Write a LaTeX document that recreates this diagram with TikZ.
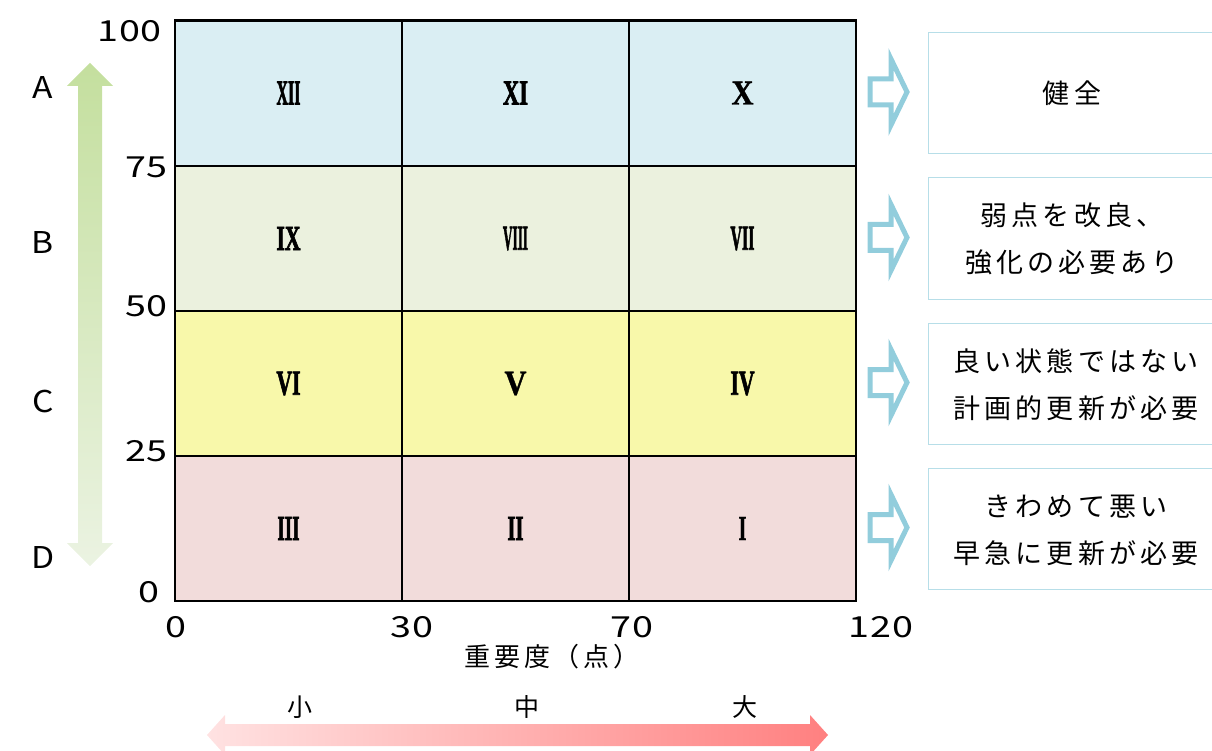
\documentclass[tikz,border=0pt]{standalone}
\usepackage{fontspec}
\usepackage{graphicx}
\setmainfont{Noto Sans CJK JP}
\newfontfamily\jpsp[LetterSpace=15]{Noto Sans CJK JP}
\newfontfamily\numfont[FakeStretch=1.3,LetterSpace=3]{Noto Sans CJK JP}
\newfontfamily\latfont[FakeStretch=1.12]{Noto Sans CJK JP}
\newfontfamily\cjkfont{Noto Sans CJK JP}
\newfontfamily\rmnfont[FakeBold=2.5]{Liberation Serif}
\newfontfamily\rmnfontb[FakeBold=1.2]{Liberation Serif}
\newcommand\rnum[2]{\resizebox{#2pt}{23pt}{\rmnfont\bfseries #1}}
\newcommand\rnumb[2]{\resizebox{#2pt}{23pt}{\rmnfontb\bfseries #1}}
\definecolor{rowA}{HTML}{DAEEF3}
\definecolor{rowB}{HTML}{EBF1DE}
\definecolor{rowC}{HTML}{F8F8AA}
\definecolor{rowD}{HTML}{F2DCDB}
\definecolor{arrblue}{HTML}{92CDDC}
\definecolor{boxblue}{HTML}{B7DEE8}
\definecolor{gtop}{HTML}{C4DF9E}
\definecolor{gbot}{HTML}{EBF3E2}
\definecolor{pleft}{HTML}{FFE2E2}
\definecolor{pright}{HTML}{FF8080}
\begin{document}
\begin{tikzpicture}[x=1pt,y=-1pt,
  cell/.style={draw=black,line width=1.8pt,minimum width=227pt,minimum height=145pt,inner sep=0pt,outer sep=0pt},
  ytick/.style={anchor=east,font=\numfont\fontsize{29}{29}\selectfont,inner sep=0pt},
  xtick/.style={anchor=center,font=\numfont\fontsize{29}{29}\selectfont,inner sep=0pt},
  grade/.style={anchor=center,font=\latfont\fontsize{30}{30}\selectfont,inner sep=0pt},
  infobox/.style={draw=boxblue,line width=1pt,fill=white,minimum width=290pt,minimum height=121pt,anchor=west,inner sep=0pt},
  infotext/.style={align=center,font=\jpsp\fontsize{27}{47}\selectfont,inner sep=0pt},
  hollow/.style={draw=arrblue,line width=5pt,fill=white,line join=miter,miter limit=10},
  sizelabel/.style={font=\cjkfont\fontsize{25}{25}\selectfont,inner sep=0pt}
]
\useasboundingbox (0,0) rectangle (1212,751);
% grid cells
\node[cell,fill=rowA] (c12) at (288.5,93) {\rnum{XII}{24}};
\node[cell,fill=rowA] (c11) at (515.5,93) {\rnum{XI}{25}};
\node[cell,fill=rowA] (c10) at (742.5,93) {\rnumb{X}{22}};
\node[cell,fill=rowB] (c9) at (288.5,238.5) {\rnum{IX}{24}};
\node[cell,fill=rowB] (c8) at (515.5,238.5) {\rnum{VIII}{25}};
\node[cell,fill=rowB] (c7) at (742.5,238.5) {\rnum{VII}{24}};
\node[cell,fill=rowC] (c6) at (288.5,383.5) {\rnum{VI}{24}};
\node[cell,fill=rowC] (c5) at (515.5,383.5) {\rnumb{V}{22}};
\node[cell,fill=rowC] (c4) at (742.5,383.5) {\rnum{IV}{24}};
\node[cell,fill=rowD] (c3) at (288.5,528.5) {\rnum{III}{22}};
\node[cell,fill=rowD] (c2) at (515.5,528.5) {\rnum{II}{16}};
\node[cell,fill=rowD] (c1) at (742.5,528.5) {\rnumb{I}{8}};
\draw[line width=2.5pt] (c12.north west) rectangle (c1.south east);
% y ticks
\node[ytick] (y100) at (162,31) {100};
\node[ytick] (y75) at (168,167) {75};
\node[ytick] (y50) at (168,306) {50};
\node[ytick] (y25) at (168,451) {25};
\node[ytick] (y0) at (160,592) {0};
% x ticks
\node[xtick] (x0) at (176,627) {0};
\node[xtick] (x30) at (412,627) {30};
\node[xtick] (x70) at (632,627) {70};
\node[xtick] (x120) at (881,627) {120};
\node[font=\jpsp\fontsize{26}{26}\selectfont,inner sep=0pt] (xlab) at (552,657) {重要度（点）};
% grades
\node[grade] (gA) at (43,88) {A};
\node[grade] (gB) at (43,243) {B};
\node[grade] (gC) at (43,402) {C};
\node[grade] (gD) at (43,558) {D};
% green arrow
\shade[top color=gtop,bottom color=gbot] (90,63) -- (113,86) -- (102,86) -- (102,543) -- (113,543) -- (90,566) -- (67,543) -- (78,543) -- (78,86) -- (67,86) -- cycle;
% pink arrow
\shade[left color=pleft,right color=pright] (207,735) -- (225,715) -- (225,724) -- (810,724) -- (810,715) -- (828,735) -- (810,755) -- (810,746) -- (225,746) -- (225,755) -- cycle;
\node[sizelabel] (small) at (300,707) {小};
\node[sizelabel] (mid) at (527,707) {中};
\node[sizelabel] (big) at (745,707) {大};
% hollow arrows
\foreach \cy in {92,237.5,382.5,527.5}{
  \draw[hollow] (870,\cy-13) -- (891,\cy-13) -- (891,\cy-33) -- (907,\cy) -- (891,\cy+33) -- (891,\cy+13) -- (870,\cy+13) -- cycle;
}
% boxes
\node[infobox] (b1) at (928,93.5) {};
\node[infobox] (b2) at (928,238.5) {};
\node[infobox] (b3) at (928,383.5) {};
\node[infobox] (b4) at (928,528.5) {};
\node[infotext] (t1) at (1072,93.5) {健全};
\node[infotext] (t2) at (1072,238.5) {弱点を改良、\\強化の必要あり};
\node[infotext] (t3) at (1076,385) {良い状態ではない\\計画的更新が必要};
\node[infotext] (t4) at (1076,530) {きわめて悪い\\早急に更新が必要};
\end{tikzpicture}
\end{document}
